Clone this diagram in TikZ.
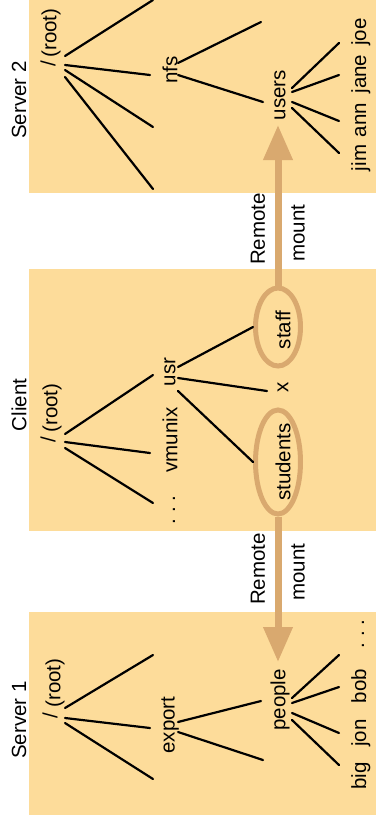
\documentclass[tikz,border=0pt]{standalone}
\usepackage{fontspec}
\setmainfont{Liberation Sans}
\usepackage{xcolor}
\usepackage{tikz}
\usetikzlibrary{shapes.geometric,arrows.meta}

\definecolor{panelc}{RGB}{253,220,154}
\definecolor{mountc}{RGB}{217,169,111}

\tikzset{
    lbl/.style={rotate=90, inner sep=0pt, font=\fontsize{20.5}{24}\selectfont},
    leaf/.style={lbl, anchor=base},
    branch/.style={line width=2.2pt, line cap=round},
    ring/.style={ellipse, draw=mountc, line width=5pt, inner sep=0pt},
    mountarrow/.style={draw=mountc, line width=7pt, -{Triangle[length=35pt,width=28pt]}}
}

\begin{document}
\begin{tikzpicture}[x=1pt,y=-1pt]
                        \useasboundingbox (0,0) rectangle (376,830);

                        % the three machines
                        \fill[panelc] (29,0) rectangle (376,193);
                        \fill[panelc] (29,269) rectangle (376,531);
                        \fill[panelc] (29,612) rectangle (376,815);

                        % Server 2
                        \node[lbl] (srv2) at (19,100) {Server 2};
                        \node[lbl] (root2) at (48,64) {/};
                        \node[lbl] (rootlbl2) at (51,33) {(root)};
                        \node[lbl] (nfs) at (170,70) {nfs};
                        \node[lbl] (users) at (280,95) {users};
                        \foreach \k/\j in {jim/158, ann/120, jane/74, joe/32} {
                            \node[leaf] (\k) at (366,\j) {\k};
                        }
                        \foreach \k/\i/\j in {r2a/65/56, r2b/65/65, r2c/65/70, r2d/65/77,
                                              e2a/153/0, e2b/150/75, e2c/153/127, e2d/153/189,
                                              n2a/178/63, n2b/178/75, f2a/261/22, f2b/263/102,
                                              u2a/292/88, u2b/292/92, u2c/292/102, u2d/292/108,
                                              g2a/339/43, g2b/339/75, g2c/339/121, g2d/339/153} {
                            \coordinate (\k) at (\i,\j);
                        }
                        \draw[branch] (r2a) -- (e2a);
                        \draw[branch] (r2b) -- (e2b);
                        \draw[branch] (r2c) -- (e2c);
                        \draw[branch] (r2d) -- (e2d);
                        \draw[branch] (n2a) -- (f2a);
                        \draw[branch] (n2b) -- (f2b);
                        \draw[branch] (u2a) -- (g2a);
                        \draw[branch] (u2b) -- (g2b);
                        \draw[branch] (u2c) -- (g2c);
                        \draw[branch] (u2d) -- (g2d);

                        % Client
                        \node[lbl] (client) at (19,405) {Client};
                        \node[lbl] (rootc) at (48,440) {/};
                        \node[lbl] (rootlblc) at (52,408) {(root)};
                        \node[lbl] (usr) at (170,372) {usr};
                        \node[lbl] (vmunix) at (170,440) {vmunix};
                        \node[lbl] (dotsc) at (174,510) {.\ .\ .};
                        \node[lbl] (staff) at (283,330) {staff};
                        \node[lbl] (x) at (283,387) {x};
                        \node[lbl] (students) at (283,462) {students};
                        \node[ring, minimum width=45pt, minimum height=78pt] (staffring) at (278,327) {};
                        \node[ring, minimum width=45pt, minimum height=104pt] (studring) at (278,462) {};
                        \foreach \k/\i/\j in {rca/65/434, rcb/65/442, rcc/65/448,
                                              eca/153/375, ecb/150/453, ecc/153/503,
                                              uca/178/367, ucb/178/378, ucc/178/391,
                                              fcb/267/391} {
                            \coordinate (\k) at (\i,\j);
                        }
                        \draw[branch] (rca) -- (eca);
                        \draw[branch] (rcb) -- (ecb);
                        \draw[branch] (rcc) -- (ecc);
                        \draw[branch] (uca) -- (staffring.west);
                        \draw[branch] (ucb) -- (fcb);
                        \draw[branch] (ucc) -- (studring.west);

                        % Server 1
                        \node[lbl] (srv1) at (19,720) {Server 1};
                        \node[lbl] (root1) at (50,716) {/};
                        \node[lbl] (rootlbl1) at (55,683) {(root)};
                        \node[lbl] (export) at (170,725) {export};
                        \node[lbl] (people) at (280,700) {people};
                        \foreach \k/\j in {big/776, jon/733, bob/686} {
                            \node[leaf] (\k) at (366,\j) {\k};
                        }
                        \node[lbl] (dots1) at (363,634) {.\ .\ .};
                        \foreach \k/\i/\j in {r1a/65/708, r1b/65/718, r1c/65/723,
                                              e1a/153/655, e1b/150/728, e1c/153/779,
                                              x1a/178/722, x1b/178/732, f1a/261/701, f1b/263/760,
                                              p1a/292/698, p1b/292/703, p1c/292/713, p1d/292/720,
                                              g1a/339/655, g1b/339/687, g1c/339/733, g1d/339/765} {
                            \coordinate (\k) at (\i,\j);
                        }
                        \draw[branch] (r1a) -- (e1a);
                        \draw[branch] (r1b) -- (e1b);
                        \draw[branch] (r1c) -- (e1c);
                        \draw[branch] (x1a) -- (f1a);
                        \draw[branch] (x1b) -- (f1b);
                        \draw[branch] (p1a) -- (g1a);
                        \draw[branch] (p1b) -- (g1b);
                        \draw[branch] (p1c) -- (g1c);
                        \draw[branch] (p1d) -- (g1d);

                        % remote mounts
                        \coordinate (tipup) at (278,125);
                        \coordinate (tipdown) at (278,662);
                        \draw[mountarrow] (staffring.north) -- (tipup);
                        \draw[mountarrow] (studring.south) -- (tipdown);
                        \node[lbl] (remoteup) at (258,229) {Remote};
                        \node[lbl] (mountup) at (298,233) {mount};
                        \node[lbl] (remotedown) at (258,569) {Remote};
                        \node[lbl] (mountdown) at (298,572) {mount};
                    \end{tikzpicture}
\end{document}
